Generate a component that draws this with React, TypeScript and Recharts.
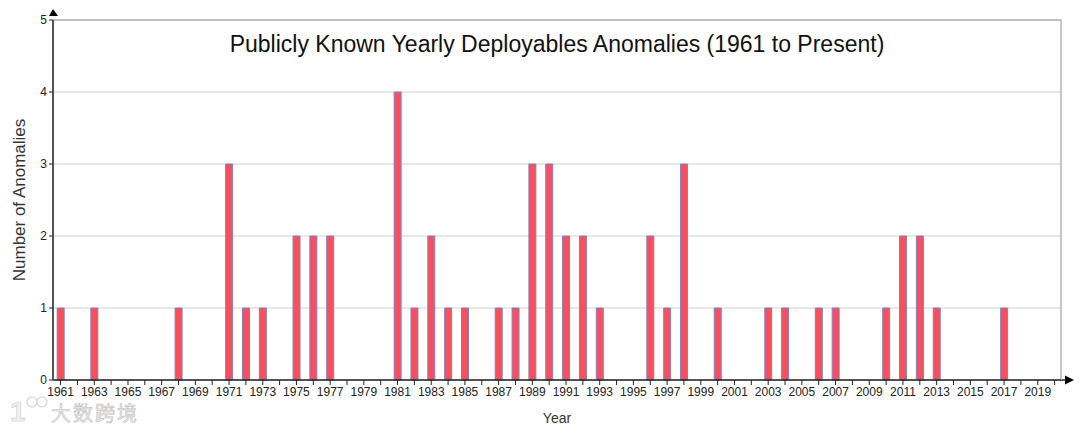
import React from 'react';
import { BarChart, Bar, XAxis, YAxis, CartesianGrid, ReferenceLine } from 'recharts';

const years = Array.from({ length: 60 }, (_v, i) => 1961 + i);
const anomalyYears = [1961, 1963, 1968, 1971, 1972, 1973, 1975, 1976, 1977, 1981, 1982, 1983, 1984, 1985, 1987, 1988, 1989, 1990, 1991, 1992, 1993, 1996, 1997, 1998, 2000, 2003, 2004, 2006, 2007, 2010, 2011, 2012, 2013, 2017];
const anomalyCounts = [1, 1, 1, 3, 1, 1, 2, 2, 2, 4, 1, 2, 1, 1, 1, 1, 3, 3, 2, 2, 1, 2, 1, 3, 1, 1, 1, 1, 1, 1, 2, 2, 1, 1];
const countTicks = [0, 1, 2, 3, 4, 5];

const data = anomalyYears.map((year, i) => ({ year, count: anomalyCounts[i] }));

const font = '"Liberation Sans", Arial, sans-serif';

// only odd years get a label, even years just keep the tick line
const YearTick = ({ x, y, payload }: any) => {
  if (payload.value % 2 === 0) return <g />;
  return (
    <text x={x} y={y + 9} textAnchor="middle" fontFamily={font} fontSize={12} fill="#222">
      {payload.value}
    </text>
  );
};

const App: React.FC = () => {
  return (
    <div style={{ position: 'absolute', left: 0, top: 0, width: 1080, height: 430, background: '#fff' }}>
      <BarChart width={1080} height={430} data={data} margin={{ top: 20, right: 19, bottom: 0, left: 0 }}>
        <CartesianGrid horizontal vertical={false} stroke="#cfcfcf" />
        <XAxis
          dataKey="year"
          type="number"
          domain={[1960.55, 2020.38]}
          ticks={years}
          interval={0}
          height={50}
          allowDataOverflow
          tick={<YearTick />}
          tickLine={{ stroke: '#222' }}
          tickSize={5}
          axisLine={{ stroke: '#222', strokeWidth: 1.5 }}
          label={{ value: 'Year', position: 'insideBottom', offset: 7, style: { fontFamily: font, fontSize: 14, fill: '#333' } }}
        />
        <YAxis
          type="number"
          domain={[0, 5]}
          ticks={countTicks}
          width={53}
          tick={{ fontFamily: font, fontSize: 12, fill: '#222' }}
          tickLine={{ stroke: '#222' }}
          tickSize={4}
          axisLine={{ stroke: '#555', strokeWidth: 2 }}
          label={{ value: 'Number of Anomalies', angle: -90, position: 'insideLeft', offset: 19, style: { textAnchor: 'middle', fontFamily: font, fontSize: 17, fill: '#333' } }}
        />
        <ReferenceLine y={5} stroke="#b5b5b5" strokeWidth={1.5} />
        <ReferenceLine x={2020.38} stroke="#b5b5b5" strokeWidth={1.5} />
        <Bar dataKey="count" barSize={7} fill="#f7505a" stroke="#8080d0" strokeWidth={1} isAnimationActive={false} />
        {/* axis arrow heads */}
        <polygon points="53,9 49,16 58,16" fill="#000" />
        <polygon points="1074,380 1065,375.5 1065,384.5" fill="#000" />
        <line x1={1061} y1={380} x2={1066} y2={380} stroke="#222" strokeWidth={1.5} />
        <text x={557} y={52} textAnchor="middle" fontFamily={font} fontSize={23} fill="#111">
          Publicly Known Yearly Deployables Anomalies (1961 to Present)
        </text>
        {/* watermark */}
        <g opacity={0.9}>
          <text x={10} y={421} fontFamily={font} fontSize={28} fontWeight={700} fill="#eee" stroke="#c8c8c8" strokeWidth={0.6}>
            1
          </text>
          <circle cx={32} cy={402} r={5} fill="none" stroke="#d8d8d8" strokeWidth={1.5} />
          <circle cx={42} cy={402} r={5} fill="none" stroke="#d8d8d8" strokeWidth={1.5} />
          <text x={51} y={421} fontFamily={'"Noto Sans CJK SC", sans-serif'} fontSize={20} letterSpacing={2} fill="#e8e8e8" stroke="#bdbdbd" strokeWidth={0.6}>
            大数跨境
          </text>
        </g>
      </BarChart>
    </div>
  );
};

export default App;
